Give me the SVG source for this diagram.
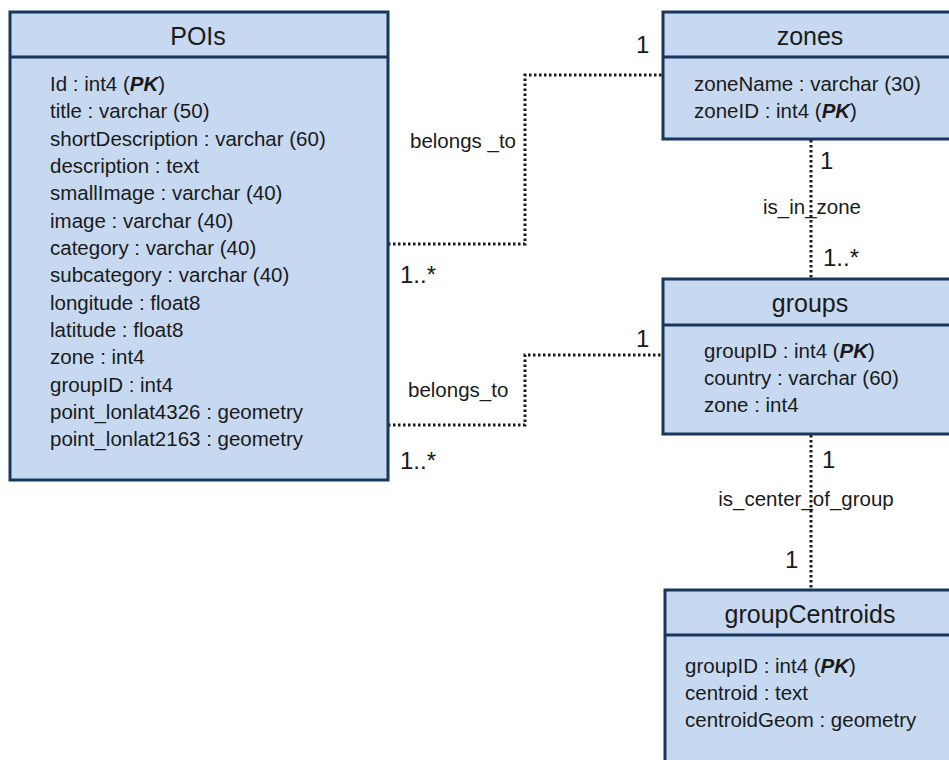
<svg xmlns="http://www.w3.org/2000/svg" width="949" height="760" viewBox="0 0 949 760">
<style>
.box{fill:#c6d9f1;stroke:#17375e;stroke-width:3}
.div{stroke:#17375e;stroke-width:3}
.t{font-family:"Liberation Sans",Arial,sans-serif;fill:#1a1a1a}
.title{font-size:25px;text-anchor:middle}
.f{font-size:20.5px}
.pk{font-weight:bold;font-style:italic}
.lbl{font-size:20.5px}
.m{font-size:24px}
.con{fill:none;stroke:#1a1a1a;stroke-width:3;stroke-dasharray:2.5 2.5}
</style>
<rect width="949" height="760" fill="#ffffff"/>
<g id="connectors">
<polyline class="con" points="388,244 525,244 525,75 663,75"/>
<polyline class="con" points="388,425 525,425 525,355 663,355"/>
<line class="con" x1="811" y1="140" x2="811" y2="278"/>
<line class="con" x1="811" y1="435" x2="811" y2="589"/>
<text class="t lbl" x="410" y="148">belongs _to</text>
<text class="t m" x="636" y="53">1</text>
<text class="t m" x="400" y="283">1..*</text>
<text class="t lbl" x="408" y="397">belongs_to</text>
<text class="t m" x="636" y="347">1</text>
<text class="t m" x="400" y="469">1..*</text>
<text class="t m" x="820" y="169">1</text>
<text class="t lbl" x="812" y="214" text-anchor="middle">is_in_zone</text>
<text class="t m" x="823" y="266">1..*</text>
<text class="t m" x="822" y="468">1</text>
<text class="t lbl" x="806" y="506" text-anchor="middle">is_center_of_group</text>
<text class="t m" x="785" y="568">1</text>
</g>
<g id="POIs">
<rect class="box" x="10" y="12" width="378" height="468"/>
<line class="div" x1="10" y1="57" x2="388" y2="57"/>
<text class="t title" x="198" y="45">POIs</text>
<text class="t f" x="50" y="91">Id : int4 (<tspan class="pk">PK</tspan>)</text>
<text class="t f" x="50" y="118">title : varchar (50)</text>
<text class="t f" x="50" y="146">shortDescription : varchar (60)</text>
<text class="t f" x="50" y="173">description : text</text>
<text class="t f" x="50" y="200">smallImage : varchar (40)</text>
<text class="t f" x="50" y="228">image : varchar (40)</text>
<text class="t f" x="50" y="255">category : varchar (40)</text>
<text class="t f" x="50" y="282">subcategory : varchar (40)</text>
<text class="t f" x="50" y="310">longitude : float8</text>
<text class="t f" x="50" y="337">latitude : float8</text>
<text class="t f" x="50" y="364">zone : int4</text>
<text class="t f" x="50" y="392">groupID : int4</text>
<text class="t f" x="50" y="419">point_lonlat4326 : geometry</text>
<text class="t f" x="50" y="446">point_lonlat2163 : geometry</text>
</g>
<g id="zones">
<rect class="box" x="663" y="12" width="300" height="127"/>
<line class="div" x1="663" y1="57" x2="963" y2="57"/>
<text class="t title" x="810" y="45">zones</text>
<text class="t f" x="694" y="91">zoneName : varchar (30)</text>
<text class="t f" x="694" y="118">zoneID : int4 (<tspan class="pk">PK</tspan>)</text>
</g>
<g id="groups">
<rect class="box" x="663" y="279" width="300" height="155"/>
<line class="div" x1="663" y1="325" x2="963" y2="325"/>
<text class="t title" x="810" y="312">groups</text>
<text class="t f" x="704" y="358">groupID : int4 (<tspan class="pk">PK</tspan>)</text>
<text class="t f" x="704" y="385">country : varchar (60)</text>
<text class="t f" x="704" y="412">zone : int4</text>
</g>
<g id="groupCentroids">
<rect class="box" x="665" y="590" width="300" height="190"/>
<line class="div" x1="665" y1="635" x2="965" y2="635"/>
<text class="t title" x="810" y="623">groupCentroids</text>
<text class="t f" x="685" y="673">groupID : int4 (<tspan class="pk">PK</tspan>)</text>
<text class="t f" x="685" y="700">centroid : text</text>
<text class="t f" x="685" y="727">centroidGeom : geometry</text>
</g>
</svg>
